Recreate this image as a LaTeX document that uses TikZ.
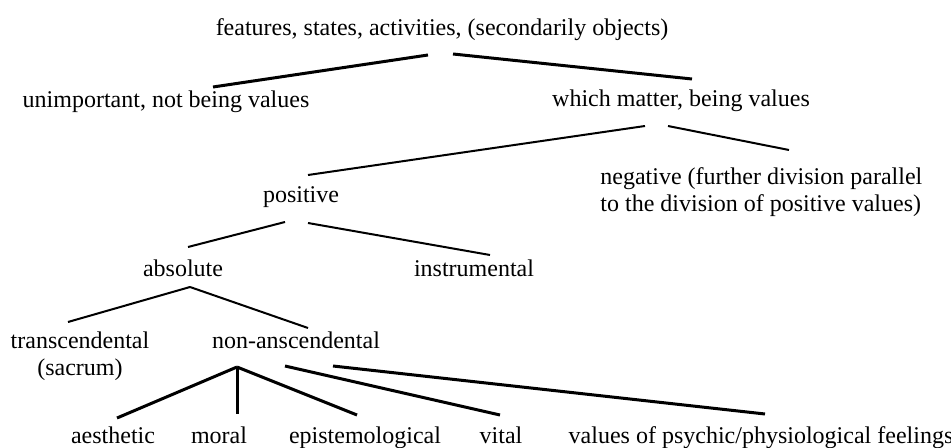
\documentclass[tikz,border=0pt]{standalone}
\usepackage{fontspec}
\setmainfont{Liberation Serif}
\usepackage{tikz}
\usetikzlibrary{calc}

\begin{document}
\begin{tikzpicture}[x=0.5pt,y=-0.5pt,
    every node/.style={font=\fontsize{12pt}{13.5pt}\selectfont,anchor=base,inner sep=0pt},
    br/.style={line width=1.5pt},
    tw/.style={line width=1pt}]
      \useasboundingbox (0,0) rectangle (951,448);
      \node (f) at (442,36) {features, states, activities, (secondarily objects)};
      \node (u) at (166,108) {unimportant, not being values}; \node (m) at (681,107) {which matter, being values};
      \node[anchor=base west,align=left] (n) at (600,212) {negative (further division parallel\\to the division of positive values)};
      \node (p) at (301,203) {positive};
      \node (ab) at (183,277) {absolute}; \node (in) at (474,277) {instrumental};
      \node[align=center] (t) at (80,375) {transcendental\\(sacrum)}; \node (na) at (296,348) {non-anscendental};
      \node (ae) at (113,443) {aesthetic}; \node (mo) at (219,443) {moral}; \node (ep) at (365,443) {epistemological};
      \node (vi) at (501,443) {vital}; \node (ps) at (761,443) {values of psychic/physiological feelings};
      \draw[br] ($(f.base)+(-14,19)$) -- ($(u.base)+(47,-21)$);
      \draw[br] ($(f.base)+(11,18)$) -- ($(m.base)+(11,-28)$);
      \draw[tw] ($(m.base)+(-36,19)$) -- ($(p.base)+(7,-28)$);
      \draw[tw] ($(m.base)+(-13,19)$) -- ($(n.base west)+(189,-62)$);
      \draw[tw] ($(p.base)+(-16,19)$) -- ($(ab.base)+(5,-30)$);
      \draw[tw] ($(p.base)+(7,20)$) -- ($(in.base)+(16,-22)$);
      \draw[tw] ($(ab.base)+(7,10)$) -- ($(t.base)+(-12,-53)$);
      \draw[tw] ($(ab.base)+(7,10)$) -- ($(na.base)+(12,-20)$);
      \draw[br] ($(na.base)+(-59,19)$) -- ($(ae.base)+(4,-25)$);
      \draw[br] ($(na.base)+(-59,19)$) -- ($(mo.base)+(18,-29)$);
      \draw[br] ($(na.base)+(-59,19)$) -- ($(ep.base)+(-8,-28)$);
      \draw[br] ($(na.base)+(-11,18)$) -- ($(vi.base)+(-1,-28)$);
      \draw[br] ($(na.base)+(37,18)$) -- ($(ps.base)+(4,-29)$);
    \end{tikzpicture}
\end{document}
